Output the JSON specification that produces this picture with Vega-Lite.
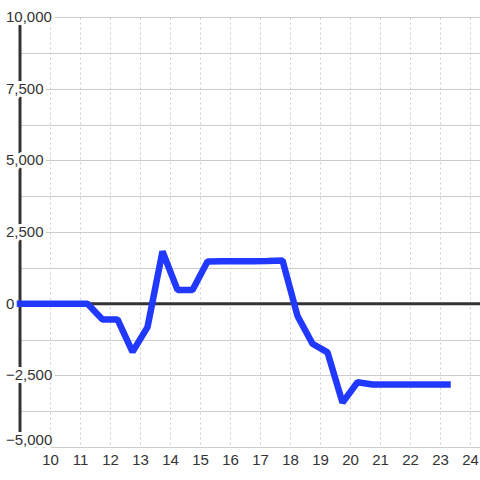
{
  "$schema": "https://vega.github.io/schema/vega-lite/v6.json",
  "width": 460,
  "height": 430,
  "autosize": {"type": "none"},
  "padding": {"left": 20, "top": 17, "right": 0, "bottom": 33},
  "background": "white",
  "config": {
    "view": {"stroke": null},
    "font": "Liberation Sans",
    "axisX": {
      "grid": true,
      "gridColor": "#cccccc",
      "gridDash": [2, 3],
      "gridWidth": 1,
      "domain": false,
      "ticks": false,
      "tickSize": 0,
      "labelFontSize": 15,
      "labelColor": "#333333",
      "labelFont": "Liberation Sans",
      "labelPadding": 5,
      "labelFlush": false,
      "labelOverlap": false
    },
    "axisY": {
      "grid": true,
      "gridColor": "#cccccc",
      "gridWidth": 1,
      "labels": false,
      "domain": false,
      "ticks": false,
      "tickSize": 0
    }
  },
  "datasets": {
    "series": [
      {"x": 9, "v": 0},
      {"x": 9.25, "v": 0},
      {"x": 9.75, "v": 0},
      {"x": 10.25, "v": 0},
      {"x": 10.75, "v": 0},
      {"x": 11.25, "v": 0},
      {"x": 11.75, "v": -550},
      {"x": 12.25, "v": -550},
      {"x": 12.75, "v": -1680},
      {"x": 13.25, "v": -820},
      {"x": 13.75, "v": 1820},
      {"x": 14.25, "v": 480},
      {"x": 14.75, "v": 480},
      {"x": 15.25, "v": 1470},
      {"x": 15.75, "v": 1480},
      {"x": 16.25, "v": 1480},
      {"x": 16.75, "v": 1480},
      {"x": 17.25, "v": 1490},
      {"x": 17.75, "v": 1510},
      {"x": 18.25, "v": -430},
      {"x": 18.75, "v": -1400},
      {"x": 19.25, "v": -1700},
      {"x": 19.75, "v": -3450},
      {"x": 20.25, "v": -2740},
      {"x": 20.75, "v": -2820},
      {"x": 21.25, "v": -2820},
      {"x": 21.75, "v": -2820},
      {"x": 22.25, "v": -2820},
      {"x": 22.75, "v": -2820},
      {"x": 23.25, "v": -2820}
    ],
    "ylabels": [
      {"tick": 10000},
      {"tick": 7500},
      {"tick": 5000},
      {"tick": 2500},
      {"tick": 0},
      {"tick": -2500},
      {"tick": -5000}
    ],
    "one": [{"k": 1}]
  },
  "layer": [
    {
      "data": {"name": "one"},
      "mark": {"type": "rule", "color": "#333333", "strokeWidth": 3},
      "encoding": {
        "x": {
          "datum": 9,
          "type": "quantitative",
          "scale": {"domain": [9, 24.333], "nice": false, "zero": false},
          "axis": {"title": null, "values": [10, 11, 12, 13, 14, 15, 16, 17, 18, 19, 20, 21, 22, 23, 24]}
        }
      }
    },
    {
      "data": {"name": "one"},
      "mark": {"type": "rule", "color": "#333333", "strokeWidth": 3},
      "encoding": {
        "y": {
          "datum": 0,
          "type": "quantitative",
          "scale": {"domain": [-5000, 10000], "nice": false, "zero": false},
          "axis": {"title": null, "values": [-5000, -3750, -2500, -1250, 0, 1250, 2500, 3750, 5000, 6250, 7500, 8750, 10000]}
        }
      }
    },
    {
      "data": {"name": "ylabels"},
      "mark": {
        "type": "text",
        "align": "left",
        "baseline": "middle",
        "dx": -14,
        "dy": {"expr": "datum.tick == -5000 ? -7 : 0"},
        "fontSize": 15,
        "font": "Liberation Sans",
        "fill": "white",
        "stroke": "white",
        "strokeWidth": 6,
        "strokeJoin": "round"
      },
      "encoding": {
        "x": {"datum": 9, "type": "quantitative", "axis": {"title": null, "values": [10, 11, 12, 13, 14, 15, 16, 17, 18, 19, 20, 21, 22, 23, 24]}},
        "y": {"field": "tick", "type": "quantitative", "axis": {"title": null, "values": [-5000, -3750, -2500, -1250, 0, 1250, 2500, 3750, 5000, 6250, 7500, 8750, 10000]}},
        "text": {"field": "tick", "format": ","}
      }
    },
    {
      "data": {"name": "ylabels"},
      "mark": {
        "type": "text",
        "align": "left",
        "baseline": "middle",
        "dx": -14,
        "dy": {"expr": "datum.tick == -5000 ? -7 : 0"},
        "fontSize": 15,
        "font": "Liberation Sans",
        "fill": "#333333"
      },
      "encoding": {
        "x": {"datum": 9, "type": "quantitative", "axis": {"title": null, "values": [10, 11, 12, 13, 14, 15, 16, 17, 18, 19, 20, 21, 22, 23, 24]}},
        "y": {"field": "tick", "type": "quantitative", "axis": {"title": null, "values": [-5000, -3750, -2500, -1250, 0, 1250, 2500, 3750, 5000, 6250, 7500, 8750, 10000]}},
        "text": {"field": "tick", "format": ","}
      }
    },
    {
      "data": {"name": "series"},
      "mark": {
        "type": "line",
        "color": "#2139ff",
        "strokeWidth": 6.5,
        "strokeJoin": "bevel",
        "strokeCap": "square"
      },
      "encoding": {
        "x": {"field": "x", "type": "quantitative", "axis": {"title": null, "values": [10, 11, 12, 13, 14, 15, 16, 17, 18, 19, 20, 21, 22, 23, 24]}},
        "y": {"field": "v", "type": "quantitative", "axis": {"title": null, "values": [-5000, -3750, -2500, -1250, 0, 1250, 2500, 3750, 5000, 6250, 7500, 8750, 10000]}}
      }
    }
  ]
}
